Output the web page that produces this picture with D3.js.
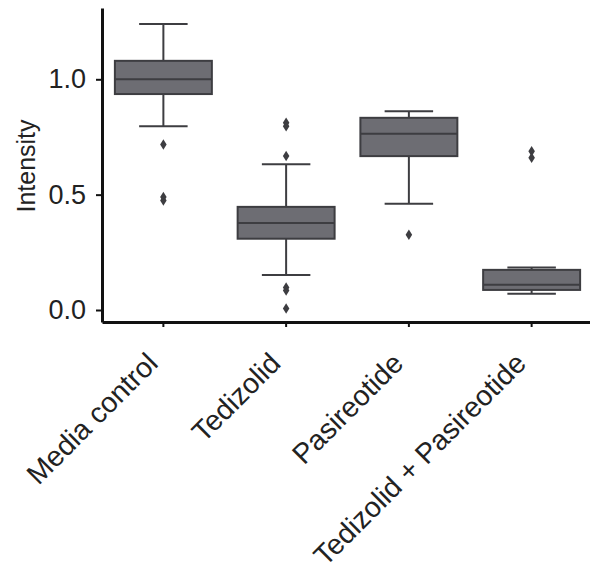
<!DOCTYPE html>
<html>
<head>
<meta charset="utf-8">
<script src="https://cdn.jsdelivr.net/npm/d3@7"></script>
<style>
  body { margin: 0; background: #fff; overflow: hidden; }
  svg { display: block; }
  svg text { font-family: "Liberation Sans", Arial, sans-serif; }
</style>
</head>
<body>
<svg id="chart"></svg>
<script>
// groups along x
var groups = ["Media control", "Tedizolid", "Pasireotide", "Tedizolid + Pasireotide"];

// box statistics
var whiskerLow  = [0.796, 0.152, 0.461, 0.070];
var q1          = [0.936, 0.309, 0.667, 0.087];
var medians     = [1.000, 0.377, 0.764, 0.109];
var q3          = [1.080, 0.447, 0.833, 0.174];
var whiskerHigh = [1.240, 0.632, 0.861, 0.184];

// outliers per group
var outliers = [
  [0.717, 0.490, 0.475],
  [0.812, 0.796, 0.668, 0.098, 0.085, 0.006],
  [0.326],
  [0.688, 0.660]
];

var yTicks = [0.0, 0.5, 1.0];

var width = 590, height = 577;
var margin = {top: 8, right: -3, bottom: 255, left: 102};
var innerW = width - margin.left - margin.right,
    innerH = height - margin.top - margin.bottom;

var svg = d3.select("#chart")
    .attr("width", width)
    .attr("height", height);

var g = svg.append("g")
    .attr("transform", "translate(" + margin.left + "," + margin.top + ")");

var x = d3.scaleBand().domain(groups).range([0, innerW]).padding(0);
var y = d3.scaleLinear().domain([-0.052, 1.309]).range([innerH, 0]);

var boxW = x.bandwidth() * 0.79;
var fill = "#6d6d73", edge = "#3d3d41";

var data = groups.map(function(name, i) {
  return {name: name, lo: whiskerLow[i], q1: q1[i], med: medians[i],
          q3: q3[i], hi: whiskerHigh[i], out: outliers[i]};
});

var box = g.selectAll(".box")
    .data(data).enter()
  .append("g")
    .attr("class", "box")
    .attr("transform", function(d) { return "translate(" + (x(d.name) + x.bandwidth() / 2) + ",0)"; });

// whisker stems
box.append("line")
    .attr("y1", function(d) { return y(d.hi); })
    .attr("y2", function(d) { return y(d.q3); })
    .attr("stroke", edge).attr("stroke-width", 2);
box.append("line")
    .attr("y1", function(d) { return y(d.q1); })
    .attr("y2", function(d) { return y(d.lo); })
    .attr("stroke", edge).attr("stroke-width", 2);

// caps
box.append("line")
    .attr("x1", -boxW / 4).attr("x2", boxW / 4)
    .attr("y1", function(d) { return y(d.hi); })
    .attr("y2", function(d) { return y(d.hi); })
    .attr("stroke", edge).attr("stroke-width", 2);
box.append("line")
    .attr("x1", -boxW / 4).attr("x2", boxW / 4)
    .attr("y1", function(d) { return y(d.lo); })
    .attr("y2", function(d) { return y(d.lo); })
    .attr("stroke", edge).attr("stroke-width", 2);

// box
box.append("rect")
    .attr("x", -boxW / 2)
    .attr("width", boxW)
    .attr("y", function(d) { return y(d.q3); })
    .attr("height", function(d) { return y(d.q1) - y(d.q3); })
    .attr("fill", fill)
    .attr("stroke", edge).attr("stroke-width", 2);

// median
box.append("line")
    .attr("x1", -boxW / 2).attr("x2", boxW / 2)
    .attr("y1", function(d) { return y(d.med); })
    .attr("y2", function(d) { return y(d.med); })
    .attr("stroke", edge).attr("stroke-width", 2);

// thin diamond outliers
var thinDiamond = {
  draw: function(ctx, size) {
    var h = Math.sqrt(size), w = h * 0.62;
    ctx.moveTo(0, -h / 2);
    ctx.lineTo(w / 2, 0);
    ctx.lineTo(0, h / 2);
    ctx.lineTo(-w / 2, 0);
    ctx.closePath();
  }
};

box.selectAll(".out")
    .data(function(d) { return d.out; }).enter()
  .append("path")
    .attr("class", "out")
    .attr("transform", function(v) { return "translate(0," + y(v) + ")"; })
    .attr("d", d3.symbol().type(thinDiamond).size(110))
    .attr("fill", edge);

// axes
var yAxis = g.append("g")
    .call(d3.axisLeft(y).tickValues(yTicks).tickFormat(d3.format(".1f")).tickSize(6).tickSizeOuter(0));
yAxis.select(".domain").attr("stroke", "#111").attr("stroke-width", 3);
yAxis.selectAll(".tick line").attr("stroke", "#111").attr("stroke-width", 2);
yAxis.selectAll(".tick text")
    .attr("font-size", 27).attr("fill", "#222").attr("x", -16);

var xAxis = g.append("g")
    .attr("transform", "translate(0," + innerH + ")")
    .call(d3.axisBottom(x).tickSize(5).tickSizeOuter(0));
xAxis.select(".domain").attr("stroke", "#111").attr("stroke-width", 3);
xAxis.selectAll(".tick line").attr("stroke", "#111").attr("stroke-width", 2);
xAxis.selectAll(".tick text")
    .attr("font-size", 28.5).attr("fill", "#222")
    .attr("text-anchor", "end")
    .attr("dy", 0)
    .attr("x", 0).attr("y", 0)
    .attr("transform", "translate(-4,43) rotate(-45)");

// y label
g.append("text")
    .attr("transform", "rotate(-90)")
    .attr("x", -(166 - margin.top))
    .attr("y", 35 - margin.left)
    .style("text-anchor", "middle")
    .attr("font-size", 25)
    .attr("fill", "#222")
    .text("Intensity");
</script>
</body>
</html>
